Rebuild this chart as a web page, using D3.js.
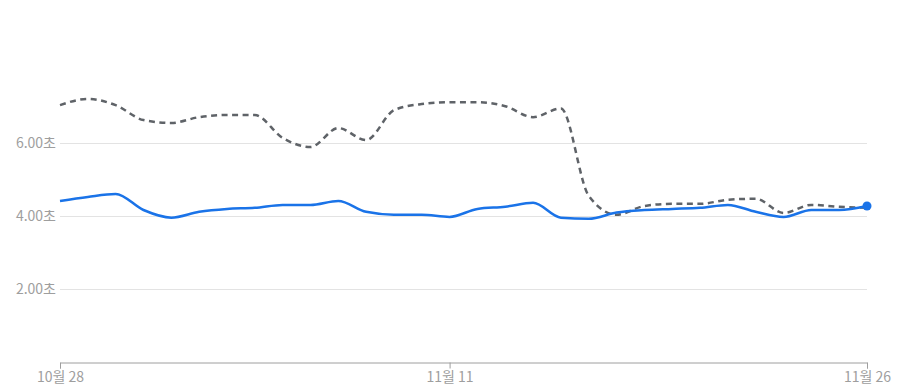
<!DOCTYPE html>
<html>
<head>
<meta charset="utf-8">
<title>Load time</title>
<style>
body {
    margin: 0;
    background: #fff;
}

#chart text {
    font-family: "Noto Sans CJK KR", "Noto Sans", sans-serif;
    font-size: 14px;
    fill: #9e9e9e;
}

.grid line {
    stroke: #e3e3e3;
    stroke-width: 1px;
}

.line-now {
    fill: none;
    stroke: #1a73e8;
    stroke-width: 2.5px;
}

.line-before {
    fill: none;
    stroke: #5f6368;
    stroke-width: 2.5px;
    stroke-dasharray: 6 4.5;
}
</style>
</head>
<body>

<script src="https://d3js.org/d3.v7.min.js"></script>

<svg id='chart' width='899' height='390'></svg>

<script>
const firstDay = new Date(2023, 9, 28);
const lastDay = new Date(2023, 10, 26);

// seconds, one value per day
const currentValues = [
    4.41, 4.52, 4.60, 4.16, 3.95, 4.11, 4.19, 4.22, 4.30, 4.30,
    4.41, 4.11, 4.03, 4.03, 3.97, 4.19, 4.25, 4.36, 3.95, 3.92,
    4.09, 4.16, 4.19, 4.22, 4.30, 4.11, 3.97, 4.16, 4.16, 4.27
];

const previousValues = [
    7.04, 7.21, 7.04, 6.63, 6.55, 6.71, 6.77, 6.77, 6.14, 5.89,
    6.41, 6.08, 6.90, 7.07, 7.12, 7.12, 7.01, 6.71, 6.95, 4.55,
    4.03, 4.27, 4.33, 4.33, 4.44, 4.47, 4.08, 4.30, 4.25, 4.22
];

const yTicks = [2, 4, 6];
const xTickDates = [new Date(2023, 9, 28), new Date(2023, 10, 11), new Date(2023, 10, 26)];
const xTickLabels = ['10월 28', '11월 11', '11월 26'];

const days = d3.timeDay.range(firstDay, d3.timeDay.offset(lastDay, 1));

const svg = d3.select('#chart');

const x = d3.scaleTime()
    .domain([firstDay, lastDay])
    .range([60, 867]);

const y = d3.scaleLinear()
    .domain([0, 6])
    .range([361.5, 143]);

// grid lines + y labels
const grid = svg.append('g').attr('class', 'grid');

grid.selectAll('line')
    .data(yTicks)
    .join('line')
        .attr('x1', 60)
        .attr('x2', 867)
        .attr('y1', d => Math.round(y(d)) + 0.5)
        .attr('y2', d => Math.round(y(d)) + 0.5);

grid.selectAll('text')
    .data(yTicks)
    .join('text')
        .attr('x', 56)
        .attr('y', d => y(d))
        .attr('dy', '0.35em')
        .attr('text-anchor', 'end')
        .text(d => d.toFixed(2) + '초');

// x axis
const xAxis = d3.axisBottom(x)
    .tickValues(xTickDates)
    .tickFormat((d, i) => xTickLabels[i])
    .tickSize(6)
    .tickPadding(4);

const axisG = svg.append('g')
    .attr('transform', `translate(0,${Math.round(y(0)) + 0.5})`)
    .call(xAxis);

axisG.select('.domain').attr('stroke', '#9e9e9e');
axisG.selectAll('.tick line').attr('stroke', '#9e9e9e');
axisG.selectAll('.tick text').attr('font-size', null).attr('font-family', null);

// lines
const line = d3.line()
    .x((d, i) => x(days[i]))
    .y(d => y(d))
    .curve(d3.curveMonotoneX);

svg.append('path')
    .attr('class', 'line-before')
    .attr('d', line(previousValues));

svg.append('path')
    .attr('class', 'line-now')
    .attr('d', line(currentValues));

const last = currentValues.length - 1;
svg.append('circle')
    .attr('cx', x(days[last]))
    .attr('cy', y(currentValues[last]))
    .attr('r', 4.5)
    .attr('fill', '#1a73e8');
</script>
</body>
</html>
